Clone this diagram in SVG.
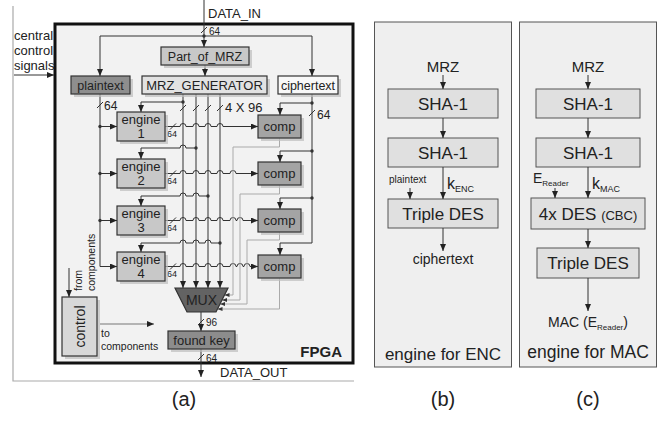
<svg xmlns="http://www.w3.org/2000/svg" width="671" height="428" viewBox="0 0 671 428">
<style>
text{font-family:"Liberation Sans",Arial,sans-serif;fill:#222}
.w{fill:none;stroke:#333;stroke-width:1}
.g{fill:none;stroke:#aaa;stroke-width:1}
.bx{stroke:#333;stroke-width:1.2}
.sh{fill:#bdbdbd;opacity:.7}
.pb{fill:#e0e0e0;stroke:#555;stroke-width:1}
.c{text-anchor:middle}
.dot{fill:#333}
</style>
<defs>
<marker id="a" viewBox="0 0 7 6" refX="7" refY="3" markerWidth="7" markerHeight="6" markerUnits="userSpaceOnUse" orient="auto"><path d="M0,0L7,3L0,6z" fill="#222"/></marker>
<marker id="s" viewBox="0 0 5 4" refX="5" refY="2" markerWidth="5" markerHeight="4" markerUnits="userSpaceOnUse" orient="auto"><path d="M0,0L5,2L0,4z" fill="#333"/></marker>
</defs>

<!-- panel a frame -->
<path d="M13,6V381H354" stroke="#aaa" stroke-width="1.2" fill="none"/>
<g id="fpga">
<rect x="55" y="24" width="298" height="339" fill="#f2f2f2" stroke="#111" stroke-width="3"/>
<text x="342" y="357" font-size="15" font-weight="bold" text-anchor="end" fill="#111">FPGA</text>
</g>
<text x="14" y="40" font-size="13">central</text>
<text x="14" y="55" font-size="13">control</text>
<text x="14" y="70" font-size="13">signals</text>
<text x="208" y="18" font-size="13">DATA_IN</text>
<text x="220" y="377" font-size="13">DATA_OUT</text>

<g id="connectors">
<path class="w" d="M14,75H54" marker-end="url(#a)"/>
<path class="w" d="M204,0V47" marker-end="url(#a)"/>
<path class="w" d="M201,33L207,27"/>
<path class="w" d="M204,36H100V76" marker-end="url(#a)"/>
<path class="w" d="M204,36H312V76" marker-end="url(#a)"/>
<path class="w" d="M205,65V76" marker-end="url(#a)"/>
<path class="w" d="M100,94V266.5H117" marker-end="url(#a)"/>
<path class="w" d="M97,108L103,102"/>
<path class="w" d="M100,126.5H117" marker-end="url(#a)"/>
<path class="w" d="M100,173.5H117" marker-end="url(#a)"/>
<path class="w" d="M100,220.5H117" marker-end="url(#a)"/>
<path class="w" d="M183,94V288" marker-end="url(#a)"/>
<path class="w" d="M196,94V288" marker-end="url(#a)"/>
<path class="w" d="M208,94V288" marker-end="url(#a)"/>
<path class="w" d="M220,94V288" marker-end="url(#a)"/>
<path class="w" d="M180,111L186,105M193,111L199,105M205,111L211,105M217,111L223,105"/>
<path class="w" d="M183,102H141V112" marker-end="url(#a)"/>
<path class="w" d="M196,148H186A3,3 0 0 0 180,148H141V159" marker-end="url(#a)"/>
<path class="w" d="M208,196H199A3,3 0 0 0 193,196H186A3,3 0 0 0 180,196H141V206" marker-end="url(#a)"/>
<path class="w" d="M220,243H211A3,3 0 0 0 205,243H199A3,3 0 0 0 193,243H186A3,3 0 0 0 180,243H141V252" marker-end="url(#a)"/>
<path class="w" d="M165,126.5H180A3,3 0 0 1 186,126.5H193A3,3 0 0 1 199,126.5H205A3,3 0 0 1 211,126.5H217A3,3 0 0 1 223,126.5H258" marker-end="url(#a)"/>
<path class="w" d="M165,173.5H180A3,3 0 0 1 186,173.5H193A3,3 0 0 1 199,173.5H205A3,3 0 0 1 211,173.5H217A3,3 0 0 1 223,173.5H230A3,3 0 0 1 236,173.5H258" marker-end="url(#a)"/>
<path class="w" d="M165,220.5H180A3,3 0 0 1 186,220.5H193A3,3 0 0 1 199,220.5H205A3,3 0 0 1 211,220.5H217A3,3 0 0 1 223,220.5H230A3,3 0 0 1 236,220.5H237A3,3 0 0 1 243,220.5H258" marker-end="url(#a)"/>
<path class="w" d="M165,266.5H180A3,3 0 0 1 186,266.5H193A3,3 0 0 1 199,266.5H205A3,3 0 0 1 211,266.5H217A3,3 0 0 1 223,266.5H230A3,3 0 0 1 236,266.5H237A3,3 0 0 1 243,266.5H244A3,3 0 0 1 250,266.5H258" marker-end="url(#a)"/>
<path class="w" d="M170,129.5L176,123.5M170,176.5L176,170.5M170,223.5L176,217.5M170,269.5L176,263.5"/>
<path class="w" d="M312,94V243H280V255" marker-end="url(#a)"/>
<path class="w" d="M309,116L315,110"/>
<path class="w" d="M312,103H280V115" marker-end="url(#a)"/>
<path class="w" d="M312,151H280V162" marker-end="url(#a)"/>
<path class="w" d="M312,198H280V209" marker-end="url(#a)"/>
<path class="g" d="M279.5,138V147H233V295H224.5" marker-end="url(#s)"/>
<path class="g" d="M279.5,185V194H240V300H222" marker-end="url(#s)"/>
<path class="g" d="M279.5,232V240H247V304H220" marker-end="url(#s)"/>
<path class="g" d="M279.5,278V309H217.5" marker-end="url(#s)"/>
<path class="w" d="M201,312V331" marker-end="url(#a)"/>
<path class="w" d="M198,325L204,319"/>
<path class="w" d="M201,349V377" marker-end="url(#a)"/>
<path class="w" d="M198,360L204,354"/>
<path class="w" d="M69,268V297" marker-end="url(#a)"/>
<path d="M100,324H154" stroke="#777" stroke-width="1" fill="none" marker-end="url(#a)"/>
<g class="dot">
<circle cx="204" cy="36" r="1.7"/>
<circle cx="100" cy="126.5" r="1.7"/><circle cx="100" cy="173.5" r="1.7"/><circle cx="100" cy="220.5" r="1.7"/>
<circle cx="183" cy="102" r="1.7"/><circle cx="196" cy="148" r="1.7"/><circle cx="208" cy="196" r="1.7"/><circle cx="220" cy="243" r="1.7"/>
<circle cx="312" cy="103" r="1.7"/><circle cx="312" cy="151" r="1.7"/><circle cx="312" cy="198" r="1.7"/>
</g>
</g>

<g font-size="9">
<text x="209" y="35" font-size="10">64</text>
<text x="104" y="110" font-size="12">64</text>
<text x="317" y="119" font-size="12">64</text>
<text x="167" y="137">64</text><text x="167" y="184">64</text><text x="167" y="231">64</text><text x="167" y="277">64</text>
<text x="206" y="326" font-size="10">96</text>
<text x="206" y="362" font-size="10">64</text>
<text x="225" y="112" font-size="13">4 X 96</text>
</g>

<g id="part_of_mrz"><rect class="sh" x="164" y="50" width="88" height="18"/><rect class="bx" x="161" y="47" width="88" height="18" fill="#c8c8c8"/><text class="c" x="205" y="60.5" font-size="12.5">Part_of_MRZ</text></g>
<g id="mrz_generator"><rect class="sh" x="145" y="79" width="125" height="18"/><rect class="bx" x="142" y="76" width="125" height="18" fill="#e2e2e2"/><text class="c" x="204.5" y="89.5" font-size="13">MRZ_GENERATOR</text></g>
<g id="plaintext"><rect class="sh" x="74" y="79" width="59" height="18"/><rect class="bx" x="71" y="76" width="59" height="18" fill="#8e8e8e"/><text class="c" x="100.5" y="89.5" font-size="12.5">plaintext</text></g>
<g id="ciphertext"><rect class="sh" x="281" y="79" width="60" height="18"/><rect class="bx" x="278" y="76" width="60" height="18" fill="#f8f8f8"/><text class="c" x="308" y="89.5" font-size="12.5">ciphertext</text></g>

<g id="engine1"><rect class="sh" x="120" y="115" width="48" height="29"/><rect class="bx" x="117" y="112" width="48" height="29" fill="#c8c8c8"/><text class="c" x="141" y="124" font-size="13">engine</text><text class="c" x="141" y="138" font-size="13">1</text></g>
<g id="engine2"><rect class="sh" x="120" y="162" width="48" height="29"/><rect class="bx" x="117" y="159" width="48" height="29" fill="#c8c8c8"/><text class="c" x="141" y="171" font-size="13">engine</text><text class="c" x="141" y="185" font-size="13">2</text></g>
<g id="engine3"><rect class="sh" x="120" y="209" width="48" height="29"/><rect class="bx" x="117" y="206" width="48" height="29" fill="#c8c8c8"/><text class="c" x="141" y="218" font-size="13">engine</text><text class="c" x="141" y="232" font-size="13">3</text></g>
<g id="engine4"><rect class="sh" x="120" y="255" width="48" height="29"/><rect class="bx" x="117" y="252" width="48" height="29" fill="#c8c8c8"/><text class="c" x="141" y="264" font-size="13">engine</text><text class="c" x="141" y="278" font-size="13">4</text></g>

<g id="comp1"><rect class="sh" x="261" y="118" width="43" height="23"/><rect class="bx" x="258" y="115" width="43" height="23" fill="#a4a4a4"/><text class="c" x="279.5" y="131" font-size="13">comp</text></g>
<g id="comp2"><rect class="sh" x="261" y="165" width="43" height="23"/><rect class="bx" x="258" y="162" width="43" height="23" fill="#a4a4a4"/><text class="c" x="279.5" y="178" font-size="13">comp</text></g>
<g id="comp3"><rect class="sh" x="261" y="212" width="43" height="23"/><rect class="bx" x="258" y="209" width="43" height="23" fill="#a4a4a4"/><text class="c" x="279.5" y="225" font-size="13">comp</text></g>
<g id="comp4"><rect class="sh" x="261" y="258" width="43" height="23"/><rect class="bx" x="258" y="255" width="43" height="23" fill="#a4a4a4"/><text class="c" x="279.5" y="271" font-size="13">comp</text></g>

<g id="mux"><polygon points="175,288 228,288 216,312 187,312" fill="#636363" stroke="#333" stroke-width="1.2"/><text class="c" x="201.5" y="305" font-size="14" fill="#2a2a2a">MUX</text></g>
<g id="found_key"><rect class="sh" x="171" y="334" width="67" height="18"/><rect class="bx" x="168" y="331" width="67" height="18" fill="#8c8c8c"/><text class="c" x="201.5" y="344.5" font-size="13">found key</text></g>
<g id="control"><rect class="sh" x="65" y="300" width="35" height="59"/><rect class="bx" x="62" y="297" width="35" height="59" fill="#d8d8d8"/><text class="c" transform="translate(84.5,326.5) rotate(-90)" font-size="14">control</text></g>
<text transform="translate(82,291) rotate(-90)" font-size="10.5">from</text>
<text transform="translate(95,291) rotate(-90)" font-size="10.5">components</text>
<text x="101" y="337" font-size="10.5">to</text>
<text x="101" y="350" font-size="10.5">components</text>
<text class="c" x="184" y="406" font-size="20">(a)</text>

<g id="panel_enc">
<rect x="374.5" y="22" width="137" height="345" fill="#efefef" stroke="#555" stroke-width="1"/>
<text class="c" x="443" y="360" font-size="17">engine for ENC</text>
</g>
<g id="enc_mrz"><text class="c" x="443" y="72" font-size="15">MRZ</text></g>
<g id="enc_sha1a"><rect class="pb" x="388" y="89" width="110" height="29"/><text class="c" x="443" y="109.5" font-size="17">SHA-1</text></g>
<g id="enc_sha1b"><rect class="pb" x="388" y="138" width="110" height="29"/><text class="c" x="443" y="158.5" font-size="17">SHA-1</text></g>
<g id="enc_tdes"><rect class="pb" x="388" y="199" width="110" height="29"/><text class="c" x="443" y="219.5" font-size="17">Triple DES</text></g>
<text x="389" y="183" font-size="10">plaintext</text>
<text x="447" y="189" font-size="16">k<tspan font-size="9" dy="3">ENC</tspan></text>
<text class="c" x="443" y="264" font-size="14">ciphertext</text>
<g id="connectors_b">
<path class="w" d="M443,75V89" marker-end="url(#a)"/>
<path class="w" d="M443,118V138" marker-end="url(#a)"/>
<path class="w" d="M443,167V199" marker-end="url(#a)"/>
<path class="w" d="M410,188V199" marker-end="url(#a)"/>
<path class="w" d="M443,228V251" marker-end="url(#a)"/>
</g>
<text class="c" x="443" y="406" font-size="20">(b)</text>

<g id="panel_mac">
<rect x="519.5" y="22" width="137" height="345" fill="#efefef" stroke="#555" stroke-width="1"/>
<text class="c" x="588" y="358" font-size="17.5">engine for MAC</text>
</g>
<g id="mac_mrz"><text class="c" x="588" y="72" font-size="15">MRZ</text></g>
<g id="mac_sha1a"><rect class="pb" x="536" y="89" width="104" height="29"/><text class="c" x="588" y="109.5" font-size="17">SHA-1</text></g>
<g id="mac_sha1b"><rect class="pb" x="536" y="138" width="104" height="29"/><text class="c" x="588" y="158.5" font-size="17">SHA-1</text></g>
<g id="mac_4des"><rect class="pb" x="531" y="198" width="114" height="31"/><text class="c" x="588" y="219.5" font-size="17">4x DES <tspan font-size="13">(CBC)</tspan></text></g>
<g id="mac_tdes"><rect class="pb" x="537" y="248" width="102" height="30"/><text class="c" x="588" y="269" font-size="17">Triple DES</text></g>
<text x="533" y="183" font-size="14">E<tspan font-size="8" dy="3">Reader</tspan></text>
<text x="592" y="189" font-size="16">k<tspan font-size="9" dy="3">MAC</tspan></text>
<text class="c" x="588" y="327" font-size="14">MAC (E<tspan font-size="8" dy="3">Reader</tspan><tspan dy="-3">)</tspan></text>
<g id="connectors_c">
<path class="w" d="M588,75V89" marker-end="url(#a)"/>
<path class="w" d="M588,118V138" marker-end="url(#a)"/>
<path class="w" d="M588,167V198" marker-end="url(#a)"/>
<path class="w" d="M555,188V198" marker-end="url(#a)"/>
<path class="w" d="M588,229V248" marker-end="url(#a)"/>
<path class="w" d="M588,278V311" marker-end="url(#a)"/>
</g>
<text class="c" x="588" y="406" font-size="20">(c)</text>
</svg>
